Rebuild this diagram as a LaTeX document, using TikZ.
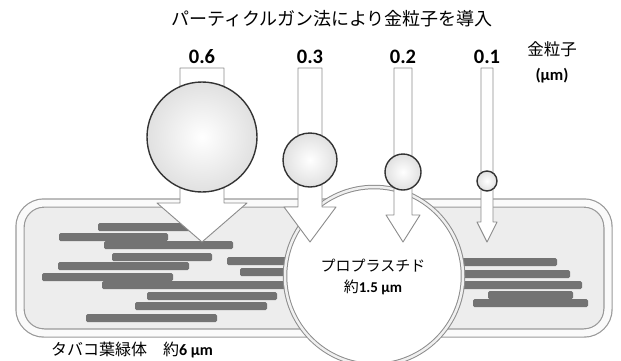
\documentclass[tikz,border=0pt]{standalone}
\usepackage{fontspec}
\setmainfont{Carlito}
\newfontfamily\jpfont{Noto Sans CJK JP}
\begin{document}
\begin{tikzpicture}[x=1pt,y=-1pt,line join=round,line cap=round]
	\tikzset{every node/.style={inner sep=0pt},
		grana/.style={fill=black!55,rounded corners=1.5pt},
		shot/.style={draw=black!45,fill=white,line width=0.9pt},
		ball/.style={draw=black!80,line width=1.4pt,inner color=white,outer color=black!12}}
	\useasboundingbox (0,0) rectangle (621,360);
	% chloroplast body
	\draw[draw=black!40,double=black!2,double distance=7pt,line width=1.2pt,fill=black!7,rounded corners=24pt] (20,203) rectangle (608,333);
	% thylakoid stacks
	\foreach \xa/\xb/\y in {98/200/227,59/168/237,104/233/245,112/212/257,58/189/266,42/173/277,102/300/285,147/277/296,135/267/306,86/217/318,227/300/261,240/300/272,440/557/262,440/570/274,440/582/285,488/573/295,473/588/303}
		\fill[grana] (\xa,\y-4) rectangle (\xb,\y+4);
	% proplastid
	\draw[draw=black!45,double=black!6,double distance=2.5pt,line width=1pt,fill=white] (374,276) circle (89);
	\node[align=center,font=\fontsize{15}{21}\selectfont] (plastid) at (373,277) {{\jpfont プロプラスチド}\\{\jpfont 約}\textbf{1.5 μm}};
	% gold particles and their shots
	\foreach \x/\w/\h/\t/\cy/\r/\d [count=\i] in {202/22/45/203/137/55/0.6,310/12/26/207/160/27/0.3,403/9/17/215/172/18/0.2,487/6/10/222/181/10/0.1} {
		\draw[shot] (\x-\w,68) -- (\x-\w,\t) -- (\x-\h,\t) -- (\x,242) -- (\x+\h,\t) -- (\x+\w,\t) -- (\x+\w,68) -- cycle;
		\draw[ball] (\x,\cy) circle (\r);
		\node[font=\bfseries\fontsize{20.5}{20.5}\selectfont] (size\i) at (\x,57) {\d};
	}
	\node[font=\jpfont\fontsize{18}{18}\selectfont] (title) at (332,19) {パーティクルガン法により金粒子を導入};
	\node[align=center,font=\fontsize{16.5}{25}\selectfont] (unit) at (552,62) {{\jpfont 金粒子}\\\textbf{(μm)}};
	\node[font=\fontsize{16}{16}\selectfont] (chloro) at (132,350) {{\jpfont タバコ葉緑体\quad 約}\textbf{6 μm}};
\end{tikzpicture}
\end{document}
